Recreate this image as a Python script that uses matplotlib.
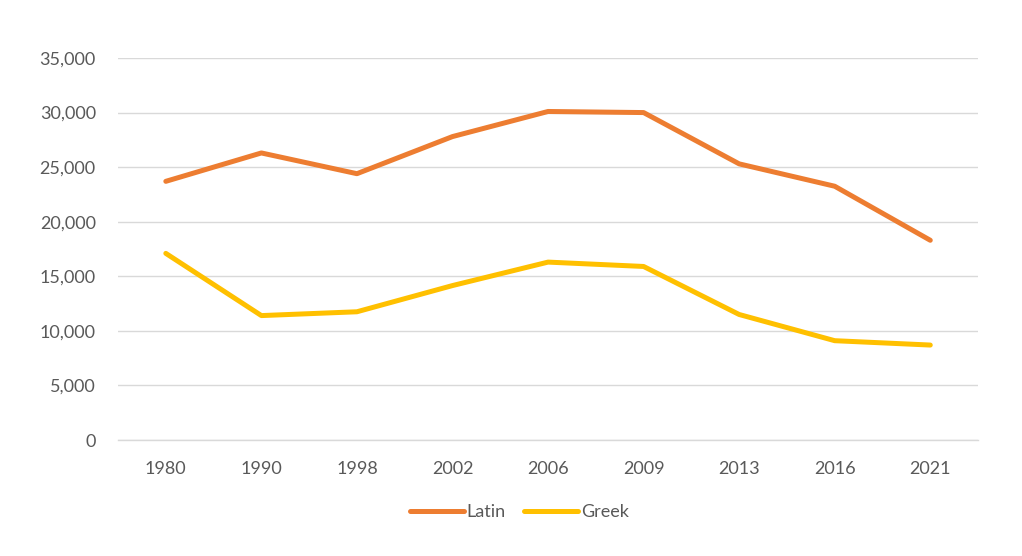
import matplotlib
matplotlib.use("Agg")
import matplotlib.pyplot as plt
import matplotlib.ticker as ticker
import numpy as np

# ── Data ──────────────────────────────────────────────────────────────────────
years = ["1980", "1990", "1998", "2002", "2006", "2009", "2013", "2016", "2021"]
latin = [23700, 26300, 24400, 27800, 30100, 30000, 25300, 23250, 18300]
greek = [17100, 11400, 11750, 14150, 16300, 15900, 11500, 9100, 8700]

# ── Figure ────────────────────────────────────────────────────────────────────
plt.rcParams['font.family'] = ['Lato', 'DejaVu Sans']

fig = plt.figure(figsize=(10.22, 5.56), dpi=100, facecolor='white')
ax = fig.add_axes([0.1155, 0.2086, 0.8415, 0.6871])

x = np.arange(len(years))
ax.plot(x, latin, color='#ED7D31', linewidth=3.6, solid_capstyle='round',
        solid_joinstyle='round', label='Latin')
ax.plot(x, greek, color='#FFC000', linewidth=3.6, solid_capstyle='round',
        solid_joinstyle='round', label='Greek')

ax.set_xlim(-0.5, len(years) - 0.5)
ax.set_ylim(0, 35000)
ax.set_yticks(np.arange(0, 35001, 5000))
ax.yaxis.set_major_formatter(ticker.FuncFormatter(lambda v, p: f"{int(v):,}"))
ax.set_xticks(x)
ax.set_xticklabels(years)

ax.grid(True, axis='y', color='#D9D9D9', linewidth=1.0)
ax.set_axisbelow(True)
for side in ['top', 'right', 'left']:
    ax.spines[side].set_visible(False)
ax.spines['bottom'].set_color('#D9D9D9')
ax.spines['bottom'].set_linewidth(1.0)

ax.tick_params(axis='both', length=0, labelsize=13, labelcolor='#595959')
ax.tick_params(axis='y', pad=16)
ax.tick_params(axis='x', pad=15)

leg = fig.legend(loc='center', bbox_to_anchor=(0.508, 0.079), ncol=2,
                 frameon=False, fontsize=13, handlelength=3.0,
                 handletextpad=0.15, columnspacing=1.0)
for t in leg.get_texts():
    t.set_color('#595959')

fig.savefig("out.png", dpi=100, facecolor='white')
